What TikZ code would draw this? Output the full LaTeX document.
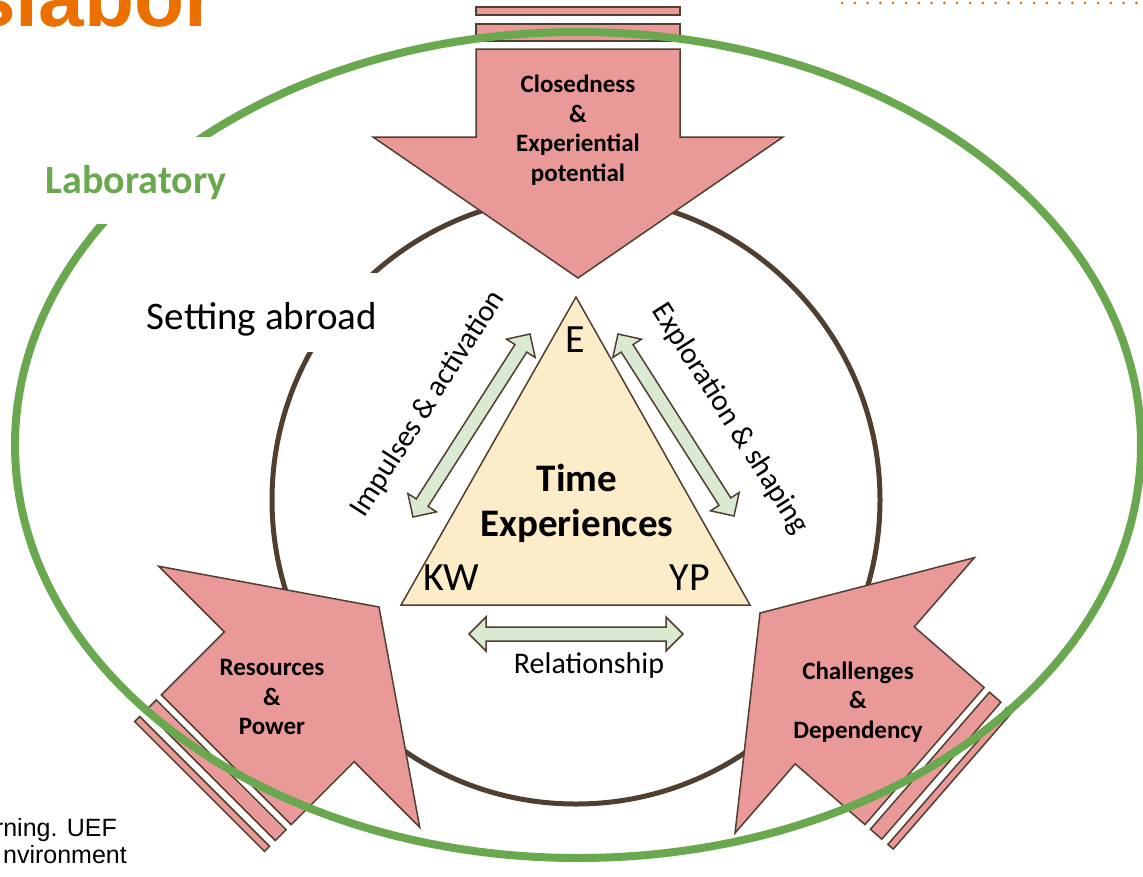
\documentclass[tikz,border=0pt]{standalone}
\usepackage{fontspec}
\setmainfont{Carlito}
\newfontfamily\brandfont{Liberation Sans}
\usetikzlibrary{calc}
\definecolor{arrowpink}{RGB}{232,153,152}
\definecolor{framebrown}{RGB}{80,62,48}
\definecolor{labgreen}{RGB}{106,168,79}
\definecolor{trifill}{RGB}{252,236,199}
\definecolor{paleleaf}{RGB}{218,234,210}
\definecolor{brandorange}{RGB}{236,112,0}
\tikzset{
    pinkarrow/.style={fill=arrowpink,draw=framebrown,line width=1.5pt,line join=miter},
    arrowtext/.style={font=\bfseries\fontsize{25}{29.5}\selectfont,align=center,inner sep=0pt},
    relarrow/.style={fill=paleleaf,draw=framebrown,line width=1.5pt},
    rellabel/.style={font=\fontsize{30}{34}\selectfont,inner sep=0pt},
    cornerlabel/.style={font=\fontsize{40}{44}\selectfont,inner sep=0pt},
    whitebox/.style={fill=white,inner sep=0pt}
}
% striped block arrow, tip at the origin, pointing down
\newcommand{\stripedarrow}[1]{%
    \filldraw[pinkarrow] (0,0) -- (-205,-141) -- (-102,-141) -- (-102,{-141-#1})
        -- (102,{-141-#1}) -- (102,-141) -- (205,-141) -- cycle;
    \filldraw[pinkarrow] (-102,{-149-#1}) rectangle (102,{-166-#1});
    \filldraw[pinkarrow] (-102,{-175-#1}) rectangle (102,{-183-#1});
}
% double block arrow between two named points
\newcommand{\dblarrow}[2]{%
    \filldraw[relarrow] (#1)
        -- ($(#1)!17pt!(#2)!17pt!90:(#2)$) -- ($(#1)!17pt!(#2)!7pt!90:(#2)$)
        -- ($(#2)!17pt!(#1)!7pt!-90:(#1)$) -- ($(#2)!17pt!(#1)!17pt!-90:(#1)$)
        -- (#2)
        -- ($(#2)!17pt!(#1)!17pt!90:(#1)$) -- ($(#2)!17pt!(#1)!7pt!90:(#1)$)
        -- ($(#1)!17pt!(#2)!7pt!-90:(#2)$) -- ($(#1)!17pt!(#2)!17pt!-90:(#2)$)
        -- cycle;
}

\begin{document}
\begin{tikzpicture}[x=1pt,y=-1pt]
    \useasboundingbox (0,0) rectangle (1143,876);

    % page leftovers
    \node[anchor=base west,inner sep=0pt,text=brandorange,
        font=\brandfont\bfseries\fontsize{82}{86}\selectfont] (brand) at (-30,26) {slabor};
    \draw[brandorange,line width=3pt,dash pattern=on 0pt off 12.8pt,line cap=round]
        (842,3) -- (1143,3);
    \node[anchor=base east,inner sep=0pt,font=\brandfont\fontsize{25}{29}\selectfont]
        (credit1) at (117,836) {rning. UEF};
    \node[anchor=base east,inner sep=0pt,font=\brandfont\fontsize{25}{29}\selectfont]
        (credit2) at (127,863) {nvironment};

    % setting abroad
    \draw[framebrown,line width=5pt] (576,500) circle [radius=304pt];
    \node[whitebox,minimum width=240pt,minimum height=79pt,text height=40pt,text depth=5pt,
        font=\fontsize{39}{43}\selectfont] (abroad) at (262,312) {Setting abroad};

    % influences
    \begin{scope}[shift={(578,278)}]
        \stripedarrow{88}
    \end{scope}
    \begin{scope}[shift={(379,607)},rotate=135,scale=0.9]
        \stripedarrow{99}
    \end{scope}
    \begin{scope}[shift={(760,613)},rotate=229,scale=0.89]
        \stripedarrow{104}
    \end{scope}
    \node[arrowtext] (closed) at (578,130) {Closedness\\\&\\Experiential\\potential};
    \node[arrowtext] (resources) at (272,697) {Resources\\\&\\Power};
    \node[arrowtext] (challenges) at (858,702) {Challenges\\\&\\Dependency};

    % laboratory
    \draw[labgreen,line width=8pt] (578,445) ellipse [x radius=563pt,y radius=413pt];
    \node[whitebox,minimum width=202pt,minimum height=87pt,text height=32pt,text depth=7pt,
        text=labgreen,font=\bfseries\fontsize{40}{44}\selectfont] (lab) at (136,180.5) {Laboratory};

    % triangle
    \coordinate (tE) at (576,297);
    \coordinate (tK) at (401,605);
    \coordinate (tY) at (750,605);
    \filldraw[fill=trifill,draw=framebrown,line width=1.5pt] (tE) -- (tK) -- (tY) -- cycle;
    \node[cornerlabel] (e) at (575,340) {E};
    \node[cornerlabel] (kw) at (451,578) {KW};
    \node[cornerlabel] (yp) at (690,578) {YP};
    \node[font=\bfseries\fontsize{39}{45}\selectfont,align=center,inner sep=0pt] (time) at (577,503)
        {Time\\Experiences};

    % relations
    \coordinate (ia1) at (413,517);
    \coordinate (ia2) at (530,334);
    \coordinate (es1) at (618,334);
    \coordinate (es2) at (734,516);
    \coordinate (rel1) at (469,634);
    \coordinate (rel2) at (683,634);
    \dblarrow{ia1}{ia2}
    \dblarrow{es1}{es2}
    \dblarrow{rel1}{rel2}
    \node[rellabel,rotate=57.5] (impulse) at (428,404) {Impulses \& activation};
    \node[rellabel,rotate=-57.5] (explore) at (730,419) {Exploration \& shaping};
    \node[rellabel] (relation) at (589,665) {Relationship};
\end{tikzpicture}
\end{document}
